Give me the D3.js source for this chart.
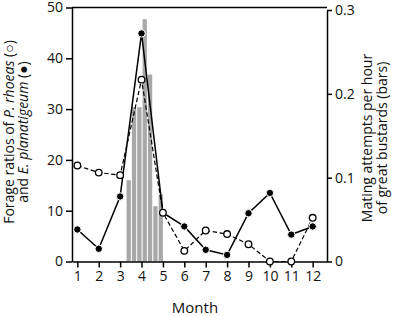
<!DOCTYPE html>
<html>
<head>
<meta charset="utf-8">
<script src="https://cdn.jsdelivr.net/npm/d3@7"></script>
<style>
  body { margin: 0; background: #fff; }
  text { font-family: "Open Sans", sans-serif; fill: #111; }
</style>
</head>
<body>
<div id="target"></div>
<script>
let months = [1, 2, 3, 4, 5, 6, 7, 8, 9, 10, 11, 12]
let rhoeas = [18.9, 17.5, 17.0, 35.8, 9.6, 2.1, 6.1, 5.4, 3.4, 0, 0, 8.6]
let planatigeum = [6.3, 2.5, 12.8, 44.9, 9.6, 6.9, 2.3, 1.3, 9.5, 13.5, 5.3, 6.9]
let weeks = [3.4, 3.65, 3.9, 4.15, 4.4, 4.65, 4.9]
let mating = [0.097, 0.184, 0.184, 0.289, 0.223, 0.066, 0.080]
let leftTicks = [0, 10, 20, 30, 40, 50]
let rightTicks = [0, 0.1, 0.2, 0.3]

let width = 400,
  height = 316,
  margin = { top: 7.5, right: 73, bottom: 55, left: 72 }

let svg = d3.select("#target").append("svg")
  .attr("width", width)
  .attr("height", height)

let x = d3.scaleLinear()
  .domain([0.75, 12.67])
  .range([margin.left, width - margin.right])
let y = d3.scaleLinear()
  .domain([0, 50])
  .range([height - margin.bottom + 0.5, margin.top])
let y2 = d3.scaleLinear()
  .domain([0, 0.3])
  .range([height - margin.bottom + 0.5, 10])

// bars
svg.selectAll("rect.bar")
  .data(weeks)
  .enter().append("rect")
  .attr("class", "bar")
  .attr("x", (d) => x(d - 0.1))
  .attr("width", x(0.95) - x(0.75))
  .attr("y", (d, i) => y2(mating[i]))
  .attr("height", (d, i) => y2(0) - y2(mating[i]))
  .style("fill", "#a8a8a8")

// frame top
svg.append("line")
  .attr("x1", x(0.75)).attr("x2", x(12.67))
  .attr("y1", margin.top).attr("y2", margin.top)
  .style("stroke", "#000").style("stroke-width", 1.5)

let xAxis = d3.axisBottom(x).tickValues(months).tickSize(6).tickPadding(4).tickSizeOuter(0)
let yAxis = d3.axisLeft(y).tickValues(leftTicks).tickSize(6).tickPadding(3).tickSizeOuter(0)
let yAxis2 = d3.axisRight(y2).tickValues(rightTicks).tickSize(5).tickPadding(3).tickSizeOuter(0)
  .tickFormat((d) => d === 0 ? "0" : d3.format(".1f")(d))

svg.append("g")
  .attr("transform", "translate(0," + y(0) + ")")
  .call(xAxis)
svg.append("g")
  .attr("transform", "translate(" + x(0.75) + ",0)")
  .call(yAxis)
svg.append("g")
  .attr("transform", "translate(" + x(12.67) + ",0)")
  .call(yAxis2)

svg.selectAll(".domain, .tick line")
  .style("stroke", "#000").style("stroke-width", 1.5)
svg.selectAll(".tick text")
  .style("font-family", "'Open Sans', sans-serif")
  .style("font-size", "14px")
  .style("fill", "#111")

// lines
let line = d3.line()
  .x((d, i) => x(months[i]))
  .y((d) => y(d))

svg.append("path")
  .datum(planatigeum)
  .attr("d", line)
  .style("fill", "none").style("stroke", "#000").style("stroke-width", 1.5)

svg.append("path")
  .datum(rhoeas)
  .attr("d", line)
  .style("fill", "none").style("stroke", "#000").style("stroke-width", 1.2)
  .style("stroke-dasharray", "4.5,2.5")

svg.selectAll("circle.filled")
  .data(planatigeum)
  .enter().append("circle")
  .attr("cx", (d, i) => x(months[i]))
  .attr("cy", (d) => y(d))
  .attr("r", 3.7)
  .style("fill", "#000").style("stroke", "#fff").style("stroke-width", 1)

svg.selectAll("circle.open")
  .data(rhoeas)
  .enter().append("circle")
  .attr("cx", (d, i) => x(months[i]))
  .attr("cy", (d) => y(d))
  .attr("r", 3.3)
  .style("fill", "#fff").style("stroke", "#000").style("stroke-width", 1.3)

// axis titles
let left = svg.append("text")
  .attr("transform", "translate(13.5,132) rotate(-90)")
  .style("text-anchor", "middle")
  .style("font-size", "14px")
left.append("tspan").attr("x", 0).attr("y", 0).text("Forage ratios of ")
left.append("tspan").style("font-style", "italic").text("P. rhoeas")
left.append("tspan").text(" (\u25CB)")
left.append("tspan").attr("x", 0).attr("y", 14.5).text("and ")
left.append("tspan").style("font-style", "italic").text("E. planatigeum")
left.append("tspan").text(" (\u25CF)")

let right = svg.append("text")
  .attr("transform", "translate(372,138) rotate(-90)")
  .style("text-anchor", "middle")
  .style("font-size", "14px")
right.append("tspan").attr("x", 0).attr("y", 0).text("Mating attempts per hour")
right.append("tspan").attr("x", 0).attr("y", 15).text("of great bustards (bars)")

svg.append("text")
  .attr("x", 195)
  .attr("y", 313)
  .style("text-anchor", "middle")
  .style("font-size", "15px")
  .text("Month")
</script>
</body>
</html>
